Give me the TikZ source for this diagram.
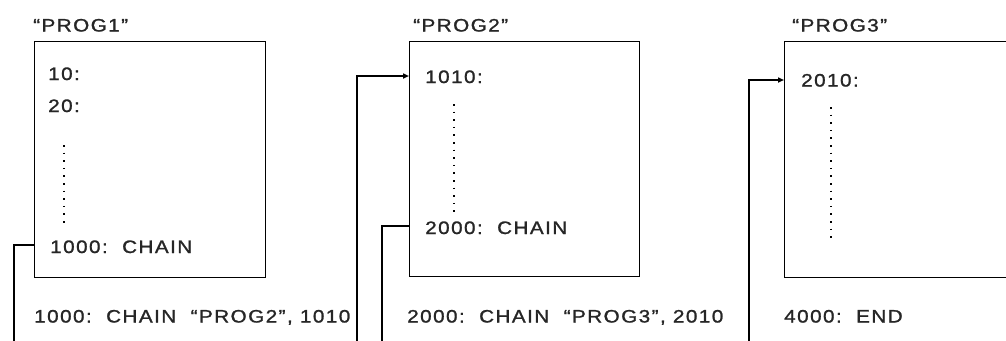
\documentclass[tikz,border=0pt]{standalone}
\usepackage{fontspec}
\newfontfamily\cf[FakeStretch=1.15,LetterSpace=8,FakeBold=1.3]{Liberation Sans}
\usetikzlibrary{arrows.meta}
\begin{document}
\begin{tikzpicture}[x=1pt,y=-1pt,
  txt/.style={anchor=base west,inner sep=0pt,font=\cf\fontsize{18}{20}\selectfont,text=black!85},
  prog/.style={draw,line width=1.4pt,anchor=north west,inner sep=0pt},
  conn/.style={line width=1.6pt},
  arr/.style={conn,-{Triangle[length=6pt,width=5pt]}},
  dots/.style={line width=1.6pt,dash pattern=on 1.6pt off 6pt}]
\useasboundingbox (0,0) rectangle (1006,340);
\clip (0,0) rectangle (1006,340);
% boxes
\node[prog,minimum width=231pt,minimum height=236pt] (b1) at (34,41) {};
\node[prog,minimum width=230pt,minimum height=235pt] (b2) at (409,41) {};
\node[prog,minimum width=250pt,minimum height=236pt] (b3) at (784,41) {};
% titles
\node[txt] (p1) at (33,31.5) {“PROG1”};
\node[txt] (p2) at (413,31.5) {“PROG2”};
\node[txt] (p3) at (792,31.5) {“PROG3”};
% box 1
\node[txt] (l10) at (48,80) {10:};
\node[txt] (l20) at (48,112) {20:};
\node[txt] (l1000) at (50,253) {1000:\ \ CHAIN};
\coordinate (d1a) at (64,145); \coordinate (d1b) at (64,224);
\draw[dots] (d1a) -- (d1b);
% box 2
\node[txt] (l1010) at (425,83) {1010:};
\node[txt] (l2000) at (425,234) {2000:\ \ CHAIN};
\coordinate (d2a) at (454,104); \coordinate (d2b) at (454,212);
\draw[dots] (d2a) -- (d2b);
% box 3
\node[txt] (l2010) at (801,86.5) {2010:};
\coordinate (d3a) at (831,107); \coordinate (d3b) at (831,239);
\draw[dots] (d3a) -- (d3b);
% bottom statements
\node[txt] (s1) at (34,322.5) {1000:\ \ CHAIN\ \ “PROG2”,\ 1010};
\node[txt] (s2) at (407,322.5) {2000:\ \ CHAIN\ \ “PROG3”,\ 2010};
\node[txt] (s3) at (784,322.5) {4000:\ \ END};
% connectors
\coordinate (e1) at (14,345);
\coordinate (e2) at (357,345);
\coordinate (e3) at (382,345);
\coordinate (e4) at (749,345);
\coordinate (a1) at (34,245);
\coordinate (a2) at (409,226);
\draw[conn] (a1) -- (a1 -| e1) -- (e1);
\draw[conn] (a2) -- (a2 -| e3) -- (e3);
\coordinate (i2) at (409,76);
\coordinate (i3) at (784,80);
\draw[arr] (e2) -- (e2 |- i2) -- (i2);
\draw[arr] (e4) -- (e4 |- i3) -- (i3);
\end{tikzpicture}
\end{document}
